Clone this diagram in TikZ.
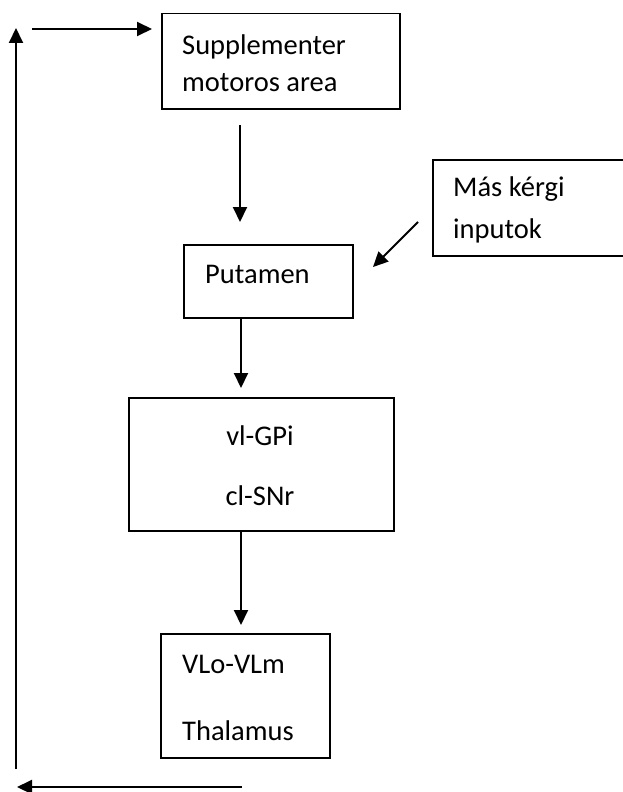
\documentclass[tikz,border=0pt]{standalone}
\usepackage{fontspec}
\setmainfont{Carlito}
\usetikzlibrary{arrows.meta}
\begin{document}
\begin{tikzpicture}[x=1pt,y=-1pt,
  box/.style={draw, line width=1.5pt, inner sep=0pt, anchor=north west},
  lbl/.style={anchor=base west, inner sep=0pt, font=\fontsize{28.5}{34}\selectfont},
  clbl/.style={anchor=base, inner sep=0pt, font=\fontsize{28.5}{34}\selectfont},
  arr/.style={line width=2pt, -{Triangle[length=15pt,width=14pt]}}]
\clip (0,0) rectangle (623,792);
% boxes
\node[box, minimum width=238pt, minimum height=95pt] (sma) at (161,13) {};
\node[box, minimum width=230pt, minimum height=96pt] (mas) at (432,159) {};
\node[box, minimum width=169pt, minimum height=73pt] (put) at (183,244) {};
\node[box, minimum width=265pt, minimum height=133pt] (gpi) at (128,397) {};
\node[box, minimum width=169pt, minimum height=124pt] (thal) at (160,633) {};
% texts
\node[lbl] (t1) at (182,55) {Supplementer};
\node[lbl] (t2) at (182,92) {motoros area};
\node[lbl] (t3) at (453,196) {Más kérgi};
\node[lbl] (t4) at (453,238) {inputok};
\node[lbl] (t5) at (205,283) {Putamen};
\node[clbl] (t6) at (260,445) {vl-GPi};
\node[clbl] (t7) at (260,505) {cl-SNr};
\node[lbl] (t8) at (182,673) {VLo-VLm};
\node[lbl] (t9) at (182,740) {Thalamus};
% connector ends
\coordinate (lb) at (16,769);
\coordinate (lt) at (16,28);
\coordinate (ts) at (32,29);
\coordinate (te) at (152,29);
\coordinate (bs) at (242,787);
\coordinate (be) at (17,787);
\coordinate (a1s) at (240,125);
\coordinate (a1e) at (240,222);
\coordinate (a2s) at (241,317);
\coordinate (a2e) at (241,388);
\coordinate (a3s) at (241,530);
\coordinate (a3e) at (241,625);
\coordinate (ds) at (418,222);
\coordinate (de) at (373,267);
% connectors
\draw[arr] (lb) -- (lt);
\draw[arr] (ts) -- (te);
\draw[arr] (bs) -- (be);
\draw[arr] (a1s) -- (a1e);
\draw[arr] (a2s) -- (a2e);
\draw[arr] (a3s) -- (a3e);
\draw[arr] (ds) -- (de);
\end{tikzpicture}
\end{document}
